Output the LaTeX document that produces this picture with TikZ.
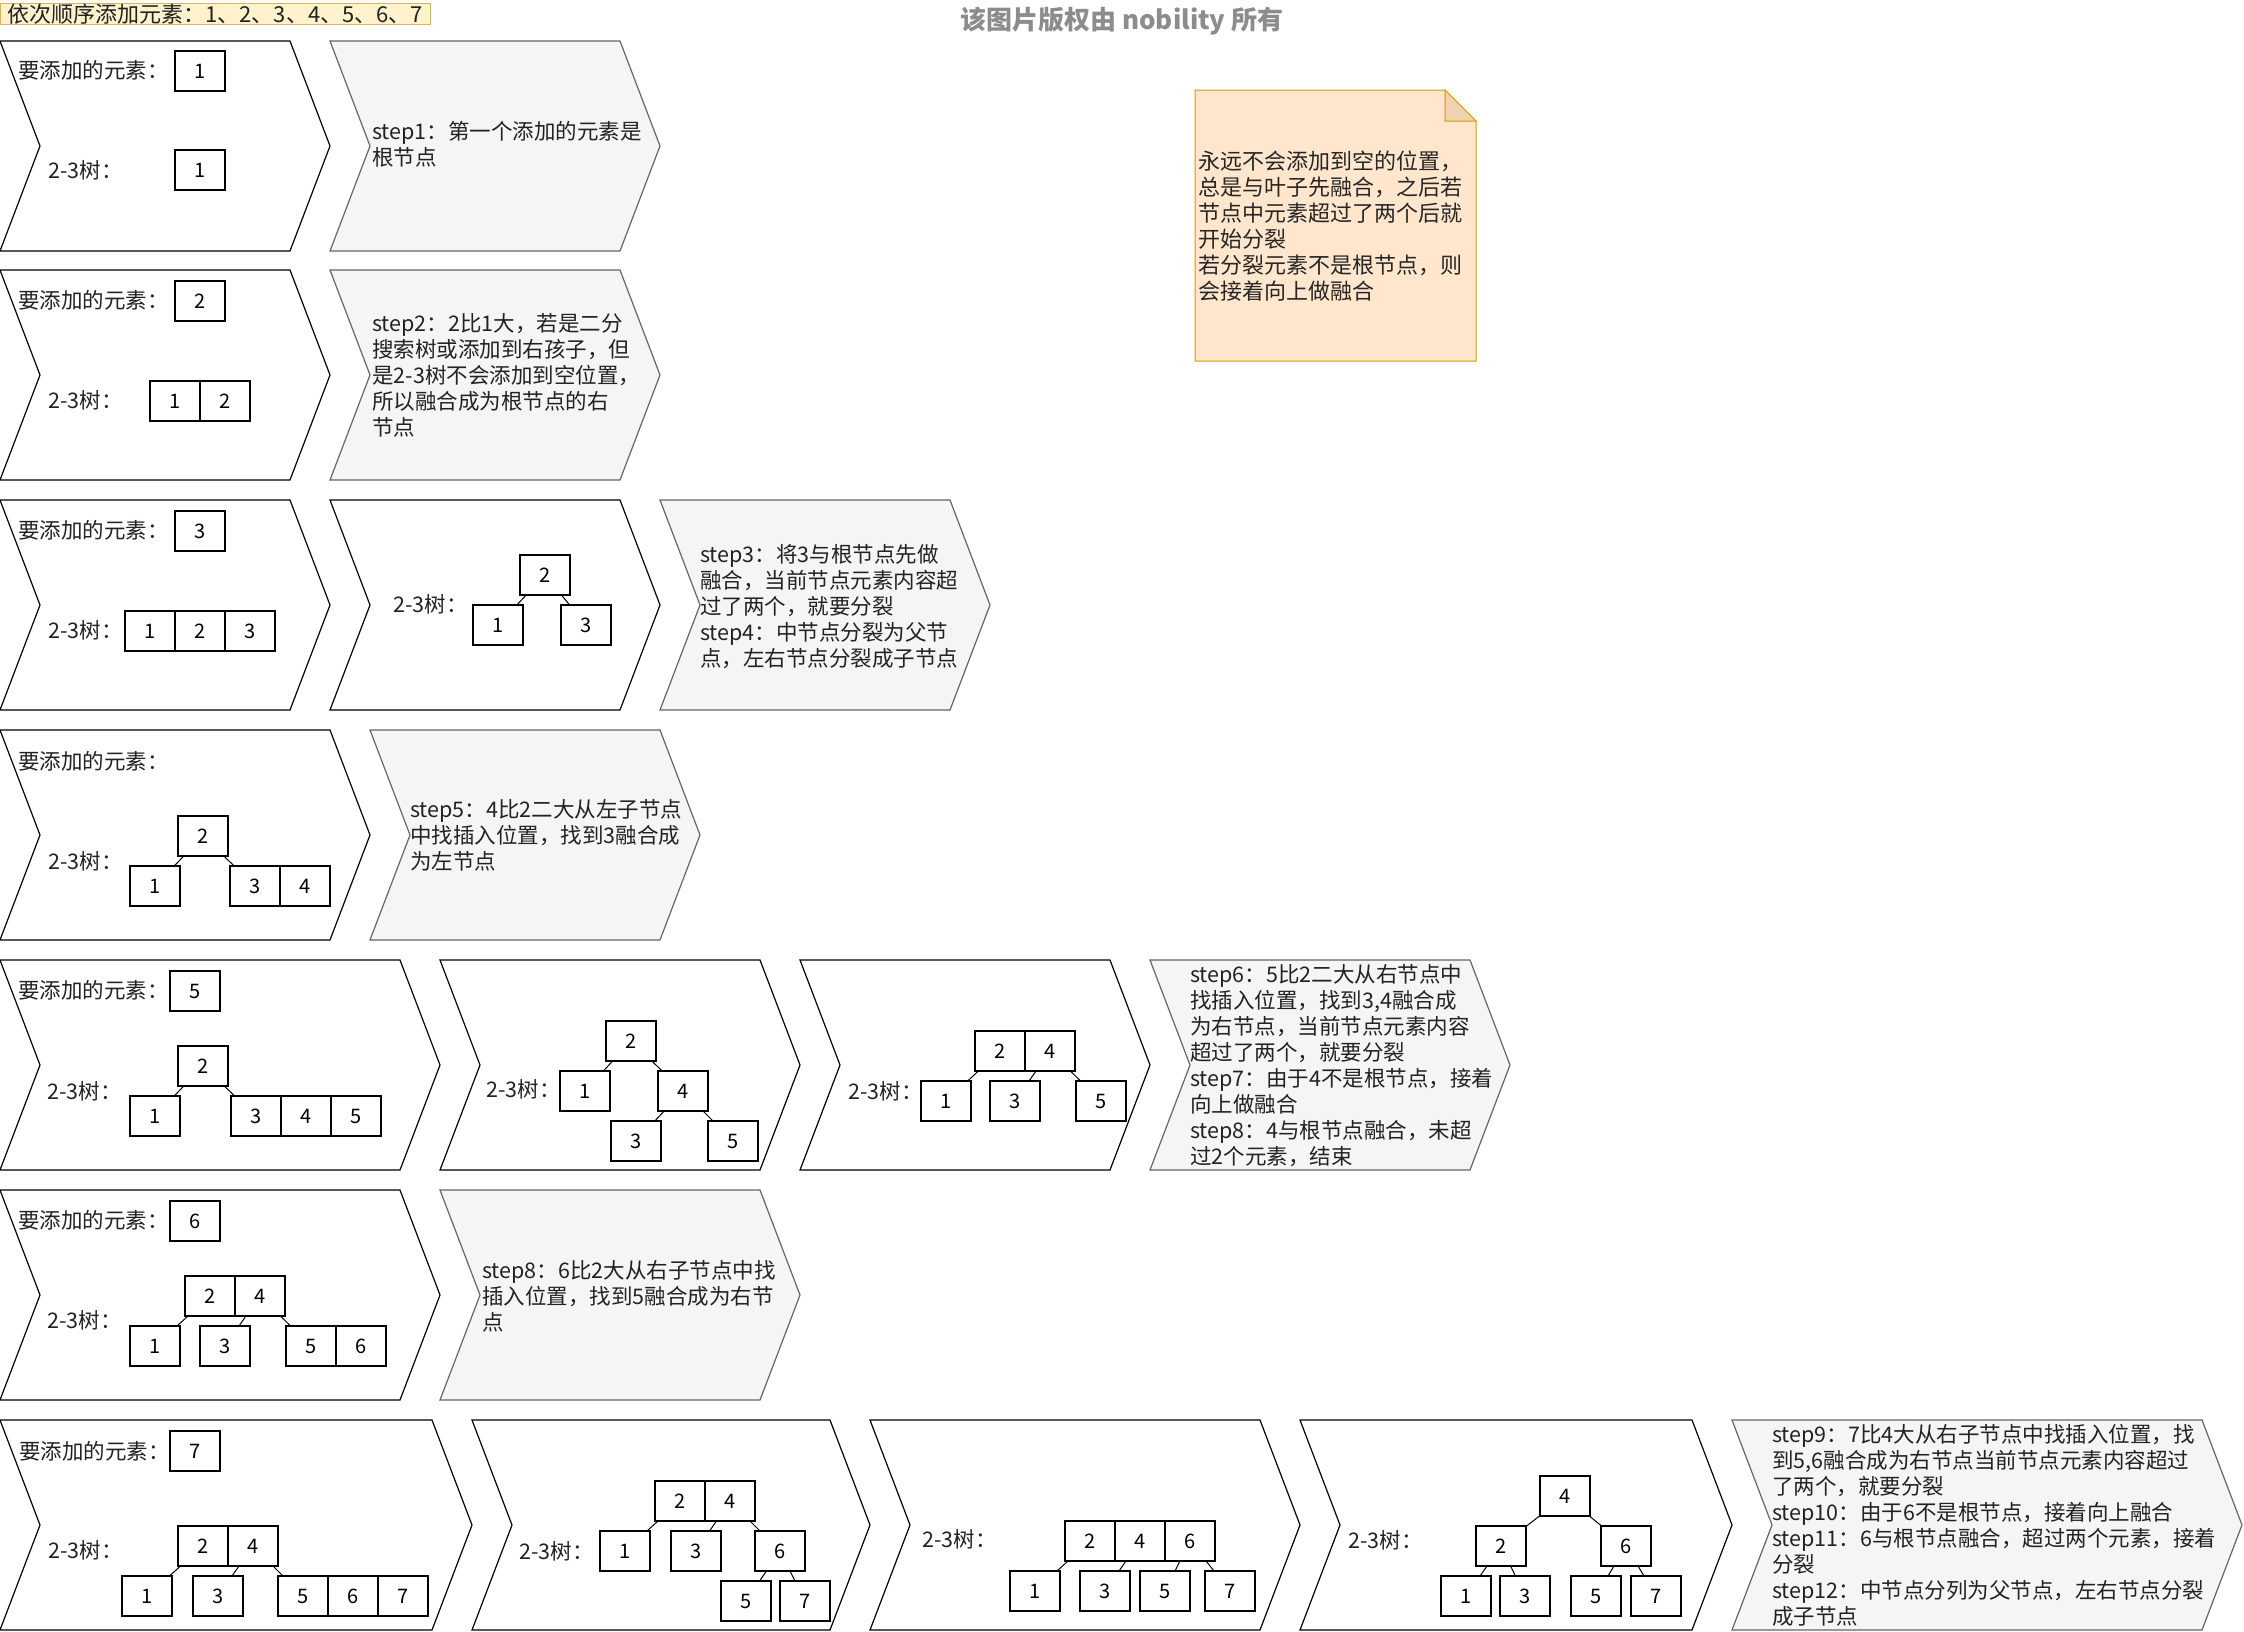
\documentclass[tikz,border=0pt]{standalone}
\usepackage{fontspec}
\setmainfont{Noto Sans CJK SC}
\usetikzlibrary{positioning}

\definecolor{stepfill}{HTML}{F5F5F5}
\definecolor{stepline}{HTML}{666666}
\definecolor{notefill}{HTML}{FFE6CC}
\definecolor{notefold}{HTML}{F2D3B1}
\definecolor{noteline}{HTML}{D79B00}
\definecolor{orderfill}{HTML}{FFF2CC}
\definecolor{orderline}{HTML}{D6B656}
\definecolor{txt}{HTML}{222222}
\definecolor{owner}{HTML}{8C8C8C}

% chevron: [style]{left}{top}{width}, 210 high, 40 deep
\newcommand{\chevron}[4][panel]{%
  \draw[#1] (#2,#3) -- ++({#4-40},0) -- ++(40,105) -- ++(-40,105)
    -- ++({40-#4},0) -- ++(40,-105) -- cycle;}

\begin{document}
\begin{tikzpicture}[x=1pt, y=-1pt,
    panel/.style={draw, fill=white, line width=1.2pt},
    steppanel/.style={draw=stepline, fill=stepfill, line width=1.2pt},
    cell/.style={draw, fill=white, line width=1.2pt, minimum width=50, minimum height=40,
      inner sep=0, outer sep=0, anchor=north west, font=\fontsize{20}{24}\selectfont},
    lab/.style={anchor=west, inner sep=0, text=txt, font=\fontsize{21.5}{26}\selectfont},
    steptext/.style={anchor=west, inner sep=0, align=left, text=txt, font=\fontsize{21.5}{26}\selectfont},
    link/.style={line width=1pt}]
  \useasboundingbox (0,0) rectangle (2244,1631);

  % header
  \node[draw=orderline, fill=orderfill, anchor=north west, minimum width=430, minimum height=21,
    inner sep=0, text=txt, font=\fontsize{22}{22}\selectfont] (order) at (0,3)
    {依次顺序添加元素：1、2、3、4、5、6、7};
  \node[text=owner, font=\bfseries\fontsize{26}{26}\selectfont] (owner) at (1122,21)
    {该图片版权由 nobility 所有};

  % note
  \draw[draw=noteline, fill=notefill, line width=1pt]
    (1195,90) -- (1445,90) -- (1476,121) -- (1476,361) -- (1195,361) -- cycle;
  \draw[draw=noteline, fill=notefold, line width=1pt] (1445,90) -- (1445,121) -- (1476,121) -- cycle;
  \node[steptext, font=\fontsize{22}{26}\selectfont, text=black!85] (note) at (1198,226)
    {永远不会添加到空的位置，\\总是与叶子先融合，之后若\\节点中元素超过了两个后就\\开始分裂\\若分裂元素不是根节点，则\\会接着向上做融合};

  % row 1
  \chevron{0}{41}{330}
  \chevron[steppanel]{330}{41}{330}
  \node[lab] (add1) at (18,70) {要添加的元素：};
  \node[cell] (new1) at (175,51) {1};
  \node[lab] (tree1) at (48,170) {2-3树：};
  \node[cell] (r1a1) at (175,150) {1};
  \node[steptext] (step1) at (372,144) {step1：第一个添加的元素是\\根节点};

  % row 2
  \chevron{0}{270}{330}
  \chevron[steppanel]{330}{270}{330}
  \node[lab] (add2) at (18,300) {要添加的元素：};
  \node[cell] (new2) at (175,281) {2};
  \node[lab] (tree2) at (48,400) {2-3树：};
  \node[cell] (r2a1) at (150,381) {1};
  \node[cell, right=0 of r2a1] (r2a2) {2};
  \node[steptext] (step2) at (372,375)
    {step2：2比1大，若是二分\\搜索树或添加到右孩子，但\\是2-3树不会添加到空位置，\\所以融合成为根节点的右\\节点};

  % row 3
  \chevron{0}{500}{330}
  \chevron{330}{500}{330}
  \chevron[steppanel]{660}{500}{330}
  \node[lab] (add3) at (18,530) {要添加的元素：};
  \node[cell] (new3) at (175,511) {3};
  \node[lab] (tree3a) at (48,630) {2-3树：};
  \node[cell] (r3a1) at (125,611) {1};
  \node[cell, right=0 of r3a1] (r3a2) {2};
  \node[cell, right=0 of r3a2] (r3a3) {3};
  \node[lab] (tree3b) at (393,604) {2-3树：};
  \node[cell] (r3b2) at (520,555) {2};
  \node[cell] (r3b1) at (473,605) {1};
  \node[cell] (r3b3) at (561,605) {3};
  \path[link] (r3b2) edge (r3b1) edge (r3b3);
  \node[steptext] (step3) at (700,607)
    {step3：将3与根节点先做\\融合，当前节点元素内容超\\过了两个，就要分裂\\step4：中节点分裂为父节\\点，左右节点分裂成子节点};

  % row 4
  \chevron{0}{730}{370}
  \chevron[steppanel]{370}{730}{330}
  \node[lab] (add4) at (18,761) {要添加的元素：};
  \node[lab] (tree4) at (48,861) {2-3树：};
  \node[cell] (r4a2) at (178,816) {2};
  \node[cell] (r4a1) at (130,866) {1};
  \node[cell] (r4a3) at (230,866) {3};
  \node[cell, right=0 of r4a3] (r4a4) {4};
  \path[link] (r4a2) edge (r4a1) edge (r4a3);
  \node[steptext] (step4) at (410,835)
    {step5：4比2二大从左子节点\\中找插入位置，找到3融合成\\为左节点};

  % row 5
  \chevron{0}{960}{440}
  \chevron{440}{960}{360}
  \chevron{800}{960}{350}
  \chevron[steppanel]{1150}{960}{360}
  \node[lab] (add5) at (18,990) {要添加的元素：};
  \node[cell] (new5) at (170,971) {5};
  \node[lab] (tree5a) at (47,1091) {2-3树：};
  \node[cell] (r5a2) at (178,1046) {2};
  \node[cell] (r5a1) at (130,1096) {1};
  \node[cell] (r5a3) at (231,1096) {3};
  \node[cell, right=0 of r5a3] (r5a4) {4};
  \node[cell, right=0 of r5a4] (r5a5) {5};
  \path[link] (r5a2) edge (r5a1) edge (r5a3);
  \node[lab] (tree5b) at (486,1089) {2-3树：};
  \node[cell] (r5b2) at (606,1021) {2};
  \node[cell] (r5b1) at (560,1071) {1};
  \node[cell] (r5b4) at (658,1071) {4};
  \node[cell] (r5b3) at (611,1121) {3};
  \node[cell] (r5b5) at (708,1121) {5};
  \path[link] (r5b2) edge (r5b1) edge (r5b4)
              (r5b4) edge (r5b3) edge (r5b5);
  \node[lab] (tree5c) at (848,1091) {2-3树：};
  \node[cell] (r5c2) at (975,1031) {2};
  \node[cell, right=0 of r5c2] (r5c4) {4};
  \node[cell] (r5c1) at (921,1081) {1};
  \node[cell] (r5c3) at (990,1081) {3};
  \node[cell] (r5c5) at (1076,1081) {5};
  \path[link] (r5c2) edge (r5c1)
              (r5c4) edge (r5c3) edge (r5c5);
  \node[steptext] (step5) at (1190,1066)
    {step6：5比2二大从右节点中\\找插入位置，找到3,4融合成\\为右节点，当前节点元素内容\\超过了两个，就要分裂\\step7：由于4不是根节点，接着\\向上做融合\\step8：4与根节点融合，未超\\过2个元素，结束};

  % row 6
  \chevron{0}{1190}{440}
  \chevron[steppanel]{440}{1190}{360}
  \node[lab] (add6) at (18,1220) {要添加的元素：};
  \node[cell] (new6) at (170,1201) {6};
  \node[lab] (tree6) at (47,1320) {2-3树：};
  \node[cell] (r6a2) at (185,1276) {2};
  \node[cell, right=0 of r6a2] (r6a4) {4};
  \node[cell] (r6a1) at (130,1326) {1};
  \node[cell] (r6a3) at (200,1326) {3};
  \node[cell] (r6a5) at (286,1326) {5};
  \node[cell, right=0 of r6a5] (r6a6) {6};
  \path[link] (r6a2) edge (r6a1)
              (r6a4) edge (r6a3) edge (r6a5);
  \node[steptext] (step6) at (482,1296)
    {step8：6比2大从右子节点中找\\插入位置，找到5融合成为右节\\点};

  % row 7
  \chevron{0}{1420}{472}
  \chevron{472}{1420}{398}
  \chevron{870}{1420}{430}
  \chevron{1300}{1420}{432}
  \chevron[steppanel]{1732}{1420}{510}
  \node[lab] (add7) at (19,1451) {要添加的元素：};
  \node[cell] (new7) at (170,1431) {7};
  \node[lab] (tree7a) at (48,1550) {2-3树：};
  \node[cell] (r7a2) at (178,1526) {2};
  \node[cell, right=0 of r7a2] (r7a4) {4};
  \node[cell] (r7a1) at (122,1576) {1};
  \node[cell] (r7a3) at (193,1576) {3};
  \node[cell] (r7a5) at (278,1576) {5};
  \node[cell, right=0 of r7a5] (r7a6) {6};
  \node[cell, right=0 of r7a6] (r7a7) {7};
  \path[link] (r7a2) edge (r7a1)
              (r7a4) edge (r7a3) edge (r7a5);
  \node[lab] (tree7b) at (519,1551) {2-3树：};
  \node[cell] (r7b2) at (655,1481) {2};
  \node[cell, right=0 of r7b2] (r7b4) {4};
  \node[cell] (r7b1) at (600,1531) {1};
  \node[cell] (r7b3) at (671,1531) {3};
  \node[cell] (r7b6) at (755,1531) {6};
  \node[cell] (r7b5) at (721,1581) {5};
  \node[cell] (r7b7) at (780,1581) {7};
  \path[link] (r7b2) edge (r7b1)
              (r7b4) edge (r7b3) edge (r7b6)
              (r7b6) edge (r7b5) edge (r7b7);
  \node[lab] (tree7c) at (922,1539) {2-3树：};
  \node[cell] (r7c2) at (1065,1521) {2};
  \node[cell, right=0 of r7c2] (r7c4) {4};
  \node[cell, right=0 of r7c4] (r7c6) {6};
  \node[cell] (r7c1) at (1010,1571) {1};
  \node[cell] (r7c3) at (1080,1571) {3};
  \node[cell] (r7c5) at (1140,1571) {5};
  \node[cell] (r7c7) at (1205,1571) {7};
  \path[link] (r7c2) edge (r7c1)
              (r7c4) edge (r7c3)
              (r7c6) edge (r7c5) edge (r7c7);
  \node[lab] (tree7d) at (1348,1540) {2-3树：};
  \node[cell] (r7d4) at (1540,1476) {4};
  \node[cell] (r7d2) at (1476,1526) {2};
  \node[cell] (r7d6) at (1601,1526) {6};
  \node[cell] (r7d1) at (1441,1576) {1};
  \node[cell] (r7d3) at (1500,1576) {3};
  \node[cell] (r7d5) at (1571,1576) {5};
  \node[cell] (r7d7) at (1631,1576) {7};
  \path[link] (r7d4) edge (r7d2) edge (r7d6)
              (r7d2) edge (r7d1) edge (r7d3)
              (r7d6) edge (r7d5) edge (r7d7);
  \node[steptext] (step7) at (1772,1525)
    {step9：7比4大从右子节点中找插入位置，找\\到5,6融合成为右节点当前节点元素内容超过\\了两个，就要分裂\\step10：由于6不是根节点，接着向上融合\\step11：6与根节点融合，超过两个元素，接着\\分裂\\step12：中节点分列为父节点，左右节点分裂\\成子节点};
\end{tikzpicture}
\end{document}
